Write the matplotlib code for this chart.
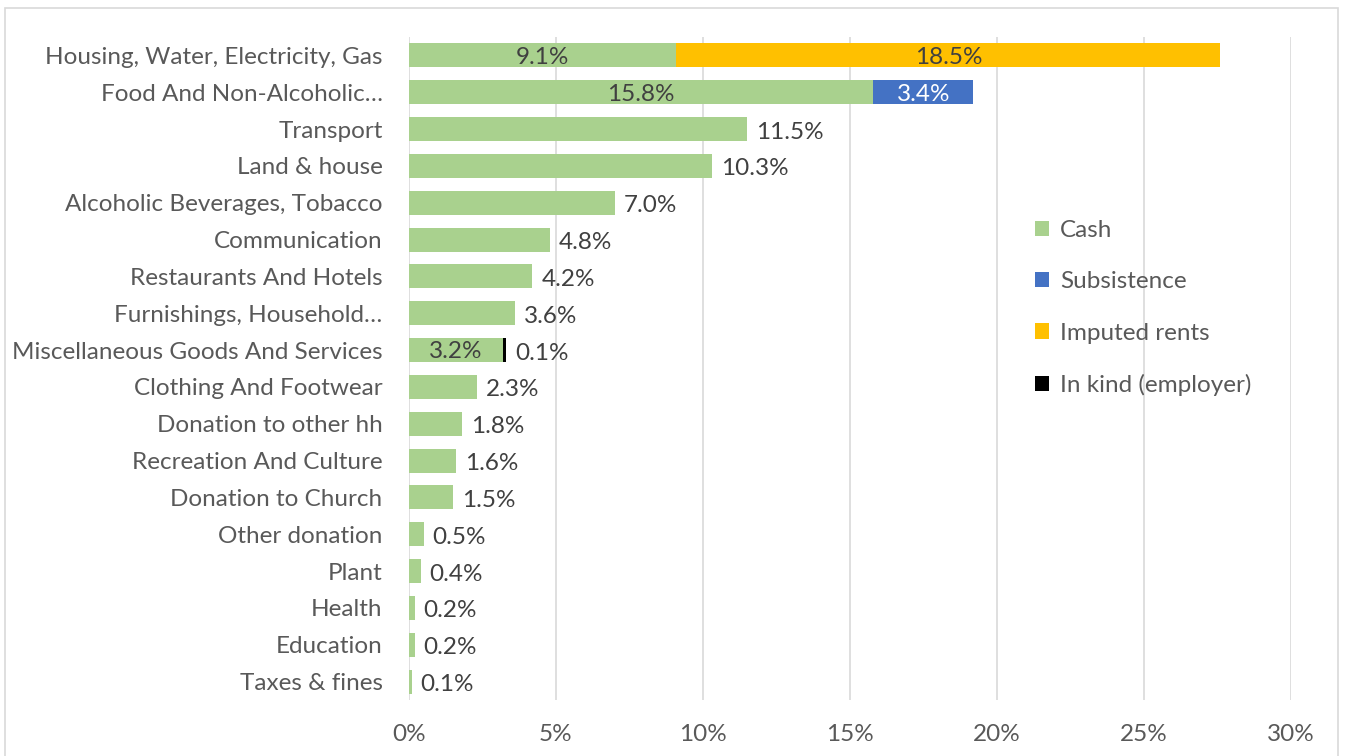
import matplotlib
matplotlib.use("Agg")
import matplotlib.pyplot as plt
from matplotlib.patches import Rectangle, Patch
from matplotlib.ticker import FuncFormatter

# Expenditure shares by item, split by type of consumption (percent)
categories = [
    "Housing, Water, Electricity, Gas",
    "Food And Non-Alcoholic\u2026",
    "Transport",
    "Land & house",
    "Alcoholic Beverages, Tobacco",
    "Communication",
    "Restaurants And Hotels",
    "Furnishings, Household\u2026",
    "Miscellaneous Goods And Services",
    "Clothing And Footwear",
    "Donation to other hh",
    "Recreation And Culture",
    "Donation to Church",
    "Other donation",
    "Plant",
    "Health",
    "Education",
    "Taxes & fines",
]
cash = [9.1, 15.8, 11.5, 10.3, 7.0, 4.8, 4.2, 3.6, 3.2, 2.3, 1.8, 1.6, 1.5, 0.5, 0.4, 0.2, 0.2, 0.1]
subsistence = [0, 3.4, 0, 0, 0, 0, 0, 0, 0, 0, 0, 0, 0, 0, 0, 0, 0, 0]
imputed_rents = [18.5, 0, 0, 0, 0, 0, 0, 0, 0, 0, 0, 0, 0, 0, 0, 0, 0, 0]
in_kind = [0, 0, 0, 0, 0, 0, 0, 0, 0.1, 0, 0, 0, 0, 0, 0, 0, 0, 0]

series_names = ["Cash", "Subsistence", "Imputed rents", "In kind (employer)"]
colors = ["#A9D18E", "#4472C4", "#FFC000", "#000000"]

plt.rcParams["font.family"] = ["Lato", "DejaVu Sans"]
text_color = "#595959"
value_color = "#404040"
fs = 17.5

fig = plt.figure(figsize=(13.47, 7.56), dpi=100)
ax = fig.add_axes([0.3036, 0.074, 0.6548, 0.877])

ypos = list(range(len(categories)))
series = [cash, subsistence, imputed_rents, in_kind]
left = [0.0] * len(categories)
bar_h = 0.65
for name, vals, col in zip(series_names, series, colors):
    ax.barh(ypos, vals, left=left, height=bar_h, color=col, label=name, zorder=3)
    for i, v in enumerate(vals):
        if v <= 0:
            continue
        stacked = sum(s[i] for s in series) > cash[i]
        if name == "Cash" and not stacked or name == "In kind (employer)":
            # outside end of the bar
            ax.text(left[i] + v + 0.3, i + 0.08, f"{v:.1f}%", ha="left", va="center",
                    fontsize=fs, color=value_color, zorder=4)
        else:
            # centred inside the segment
            tc = "white" if name == "Subsistence" else value_color
            ax.text(left[i] + v / 2, i + 0.05, f"{v:.1f}%", ha="center", va="center",
                    fontsize=fs, color=tc, zorder=4)
    left = [l + v for l, v in zip(left, vals)]

ax.set_xlim(0, 30)
ax.set_ylim(len(categories) - 0.5, -0.5)
ax.set_xticks(range(0, 31, 5))
ax.xaxis.set_major_formatter(FuncFormatter(lambda x, p: f"{x:.0f}%"))
ax.set_yticks(ypos)
ax.set_yticklabels(categories)
ax.tick_params(axis="both", length=0, labelsize=fs, labelcolor=text_color)
ax.tick_params(axis="y", pad=19)
ax.tick_params(axis="x", pad=17)
ax.grid(axis="x", color="#D9D9D9", linewidth=1.2, zorder=0)
for s in ax.spines.values():
    s.set_visible(False)

handles = [Patch(facecolor=c, edgecolor="none", label=n) for n, c in zip(series_names, colors)]
fig.legend(handles=handles, loc="upper left", bbox_to_anchor=(0.761, 0.722),
           frameon=False, fontsize=fs, labelcolor=text_color,
           handlelength=0.6, handleheight=0.6, handletextpad=0.45,
           labelspacing=1.25, borderaxespad=0)

# thin light border round the whole chart
fig.patches.append(Rectangle((0.004, -0.01), 0.989, 1.0, transform=fig.transFigure,
                             fill=False, edgecolor="#D9D9D9", linewidth=1.2))

fig.savefig("out.png", dpi=100)
